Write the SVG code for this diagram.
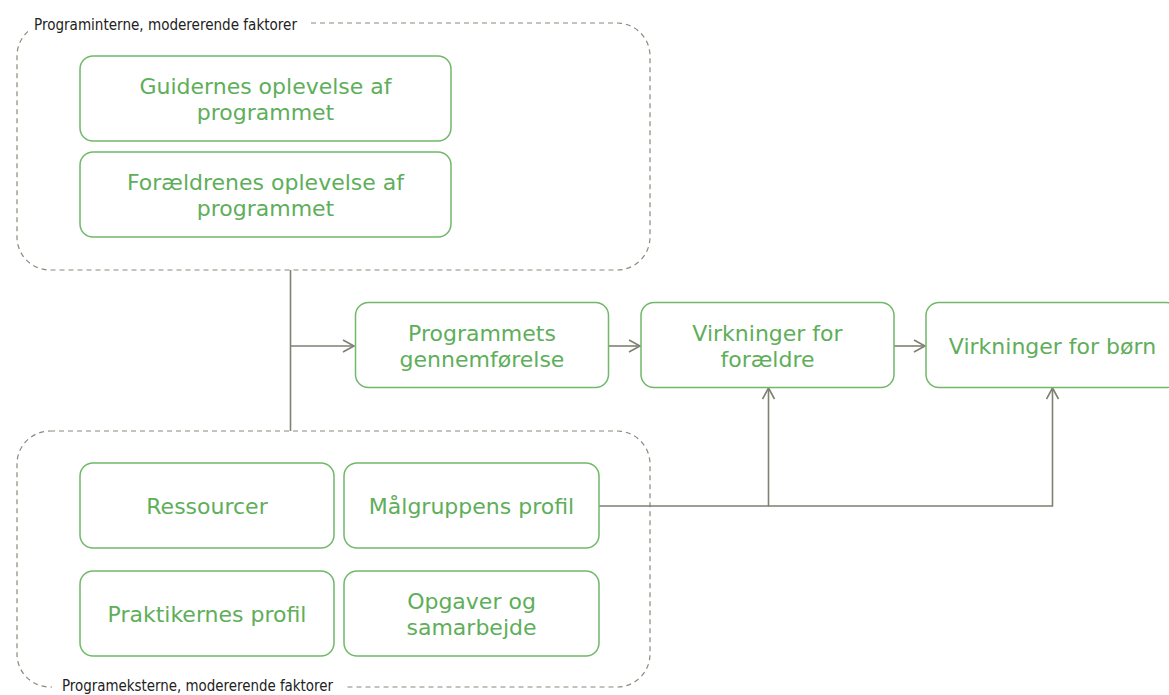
<svg xmlns="http://www.w3.org/2000/svg" width="1169" height="695" viewBox="0 0 1169 695">
  <style>
    .box { fill: #ffffff; stroke: #72b86a; stroke-width: 1.5; }
    .lbl { font-family: "DejaVu Sans", Verdana, sans-serif; font-size: 22px; fill: #5eae5a; text-anchor: middle; }
    .grp { fill: none; stroke: #8a8a7c; stroke-width: 1.2; stroke-dasharray: 5 4; }
    .gl { font-family: "DejaVu Sans Condensed", "DejaVu Sans", sans-serif; font-stretch: condensed; font-size: 15px; fill: #222222; }
    .con { fill: none; stroke: #7f7f72; stroke-width: 1.6; }
  </style>
  <defs>
    <marker id="arr" markerUnits="userSpaceOnUse" markerWidth="14" markerHeight="14" viewBox="0 0 14 14" refX="12" refY="7" orient="auto">
      <path d="M1,1 L12,7 L1,13" fill="none" stroke="#7f7f72" stroke-width="1.6"/>
    </marker>
  </defs>
  <rect width="1169" height="695" fill="#ffffff"/>

  <g id="group-intern">
    <rect class="grp" x="17" y="23" width="633" height="247" rx="33" ry="33"/>
    <rect x="28" y="12" width="282" height="22" fill="#ffffff"/>
    <text class="gl" x="34" y="30" textLength="263" lengthAdjust="spacingAndGlyphs">Programinterne, modererende faktorer</text>
  </g>
  <g id="group-ekstern">
    <rect class="grp" x="17" y="431" width="633" height="256" rx="33" ry="33"/>
    <rect x="52" y="676" width="294" height="19" fill="#ffffff"/>
    <text class="gl" x="62" y="691" textLength="271" lengthAdjust="spacingAndGlyphs">Programeksterne, modererende faktorer</text>
  </g>

  <g id="connectors">
    <line class="con" x1="290.5" y1="270" x2="290.5" y2="431"/>
    <line class="con" x1="290.5" y1="346" x2="354" y2="346" marker-end="url(#arr)"/>
    <line class="con" x1="608" y1="346" x2="640" y2="346" marker-end="url(#arr)"/>
    <line class="con" x1="894" y1="346" x2="925" y2="346" marker-end="url(#arr)"/>
    <polyline class="con" points="599,506 768.5,506 768.5,388" marker-end="url(#arr)"/>
    <polyline class="con" points="768.5,506 1052.5,506 1052.5,388" stroke="#9a9a8c" marker-end="url(#arr)"/>
  </g>

  <g id="n-guidernes">
    <rect class="box" x="80" y="56" width="371" height="85" rx="13"/>
    <text class="lbl" x="265.5" y="94">Guidernes oplevelse af</text>
    <text class="lbl" x="265.5" y="120">programmet</text>
  </g>
  <g id="n-foraeldrenes">
    <rect class="box" x="80" y="152" width="371" height="85" rx="13"/>
    <text class="lbl" x="265.5" y="190">Forældrenes oplevelse af</text>
    <text class="lbl" x="265.5" y="216">programmet</text>
  </g>
  <g id="n-programmets">
    <rect class="box" x="355.5" y="302.5" width="253" height="85" rx="13"/>
    <text class="lbl" x="482" y="341">Programmets</text>
    <text class="lbl" x="482" y="367">gennemførelse</text>
  </g>
  <g id="n-virk-foraeldre">
    <rect class="box" x="641" y="302.5" width="253" height="85" rx="13"/>
    <text class="lbl" x="767.5" y="341">Virkninger for</text>
    <text class="lbl" x="767.5" y="367">forældre</text>
  </g>
  <g id="n-virk-boern">
    <rect class="box" x="926" y="302.5" width="253" height="85" rx="13"/>
    <text class="lbl" x="1052.5" y="354">Virkninger for børn</text>
  </g>
  <g id="n-ressourcer">
    <rect class="box" x="80" y="463" width="254" height="85" rx="13"/>
    <text class="lbl" x="207" y="514">Ressourcer</text>
  </g>
  <g id="n-maalgruppens">
    <rect class="box" x="344" y="463" width="255" height="85" rx="13"/>
    <text class="lbl" x="471.5" y="514">Målgruppens profil</text>
  </g>
  <g id="n-praktikernes">
    <rect class="box" x="80" y="571" width="254" height="85" rx="13"/>
    <text class="lbl" x="207" y="622">Praktikernes profil</text>
  </g>
  <g id="n-opgaver">
    <rect class="box" x="344" y="571" width="255" height="85" rx="13"/>
    <text class="lbl" x="471.5" y="609">Opgaver og</text>
    <text class="lbl" x="471.5" y="635">samarbejde</text>
  </g>
</svg>
